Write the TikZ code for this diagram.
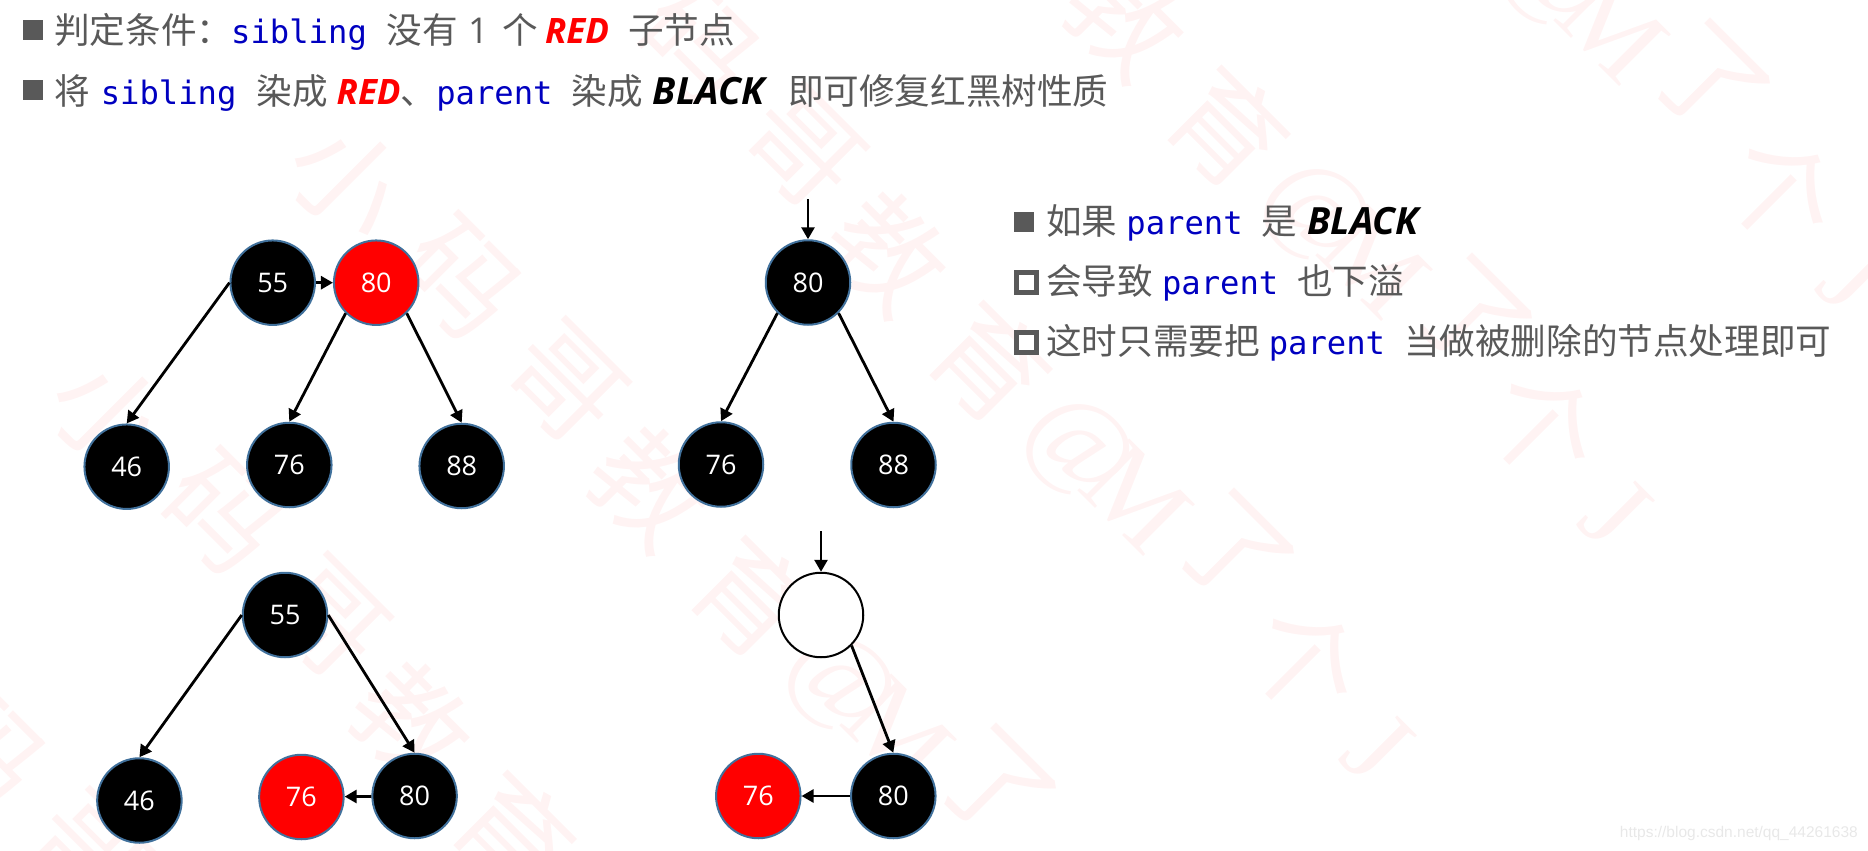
\documentclass[tikz,border=0pt]{standalone}
\usepackage{fontspec}
\setmainfont{Open Sans}
\setmonofont{DejaVu Sans Mono}
\newfontfamily\cjk{Noto Sans CJK SC}
\newfontfamily\wmen{Liberation Serif}
\newfontfamily\csdnfont{Liberation Sans}
\definecolor{keyblue}{RGB}{0, 0, 192}
\definecolor{bodygray}{RGB}{89, 89, 89}
\definecolor{ringblue}{RGB}{65, 113, 156}
\definecolor{wmpink}{RGB}{255, 243, 243}
\definecolor{pureRed}{RGB}{255, 0, 0}
\usetikzlibrary{arrows.meta,positioning,shapes}
\newcommand{\zh}[1]{{\cjk #1}}
\newcommand{\kw}[1]{{\fontsize{32.2}{36}\selectfont\ttfamily\color{keyblue}#1}}
\newcommand{\redword}{{\fontsize{35}{38}\selectfont\bfseries\itshape\color{pureRed}RED}}
\newcommand{\blackword}{{\fontsize{37.5}{40}\selectfont\bfseries\itshape\color{black}BLACK}}
\tikzset{
    blacknode/.style={circle, draw=ringblue, fill=black, line width=2pt, minimum size=84.5pt, inner sep=0pt, text=white, font=\fontsize{27}{30}\selectfont},
    rednode/.style={blacknode, fill=pureRed},
    emptynode/.style={blacknode, draw=black, fill=white},
    linetext/.style={anchor=base west, inner sep=0pt, text=bodygray, font=\fontsize{35.6}{42}\selectfont},
    solidbullet/.style={rectangle, fill=bodygray, minimum width=20pt, minimum height=20pt, inner sep=0pt},
    hollowbullet/.style={rectangle, draw=bodygray, line width=5pt, fill=white, minimum size=20pt, inner sep=0pt},
    treearrow/.style={-{Triangle[length=12pt,width=13pt]}, line width=2.8pt, black},
    wmark/.style={text=wmpink, rotate=-45, inner sep=0pt, font=\fontsize{112}{120}\selectfont}
}

\begin{document}
\begin{tikzpicture}[x=1pt, y=-1pt]
    \useasboundingbox (0,0) rectangle (1868,851);
    \begin{scope}
        \clip (0,0) rectangle (1868,851);
        \foreach \k in {-3,...,3}
            \foreach \c/\ox/\oy/\id in {\cjk 小/348/181/a, \cjk 码/460/279/b, \cjk 哥/565/383/c, \cjk 教/650/488/d, \cjk 育/752/598/e, \wmen @/839/684/f, \wmen M/899/733/g, \cjk 了/995/788/h, \cjk 个/1067/896/i, \wmen J/1139/983/j}
                \node[wmark] (wm\id\k) at ({\ox+\k*238},{\oy-\k*235}) {\c};
    \end{scope}

    \node[solidbullet] (bulleta) at (32.5,30) {};
    \node[linetext] (rulea) at (54,44) {\zh{判定条件：}\hspace{-1pt}\kw{sibling}\hspace{20pt}\zh{没有}\hspace{10pt}1\hspace{14pt}\zh{个}\hspace{7pt}\redword\hspace{19pt}\zh{子节点}};
    \node[solidbullet] (bulletb) at (32.5,90) {};
    \node[linetext] (ruleb) at (54,104) {\zh{将}\hspace{11pt}\kw{sibling}\hspace{20pt}\zh{染成}\hspace{9pt}\redword\zh{、}\kw{parent}\hspace{19pt}\zh{染成}\hspace{10pt}\blackword\hspace{24pt}\zh{即可修复红黑树性质}};

    \node[solidbullet] (bulletc) at (1024,222) {};
    \node[linetext] (notea) at (1046,234) {\zh{如果}\hspace{9pt}\kw{parent}\hspace{19pt}\zh{是}\hspace{10pt}\blackword};
    \node[hollowbullet] (bulletd) at (1026,282) {};
    \node[linetext] (noteb) at (1046,294) {\zh{会导致}\hspace{9pt}\kw{parent}\hspace{19pt}\zh{也下溢}};
    \node[hollowbullet] (bullete) at (1026,342) {};
    \node[linetext] (notec) at (1046,354) {\zh{这时只需要把}\hspace{9pt}\kw{parent}\hspace{19pt}\zh{当做被删除的节点处理即可}};

    \node[blacknode] (la55) at (272.7,282.7) {55};
    \node[rednode, right=17pt of la55] (la80) {80};
    \node[blacknode] (la46) at (126.7,466.7) {46};
    \node[blacknode] (la76) at (289.3,465) {76};
    \node[blacknode] (la88) at (461.7,466) {88};
    \draw[treearrow] (la55) -- (la80);
    \draw[treearrow] (la55.west) -- (la46.north);
    \draw[treearrow] (la80.south west) -- (la76.north);
    \draw[treearrow] (la80.south east) -- (la88.north);

    \coordinate (raentry) at (808,199);
    \node[blacknode] (ra80) at (808,282.5) {80};
    \node[blacknode] (ra76) at (721,464.5) {76};
    \node[blacknode] (ra88) at (893.5,465) {88};
    \draw[treearrow] (raentry) -- (ra80.north);
    \draw[treearrow] (ra80.south west) -- (ra76.north);
    \draw[treearrow] (ra80.south east) -- (ra88.north);

    \node[blacknode] (lb55) at (285,615) {55};
    \node[blacknode] (lb46) at (139.4,800.5) {46};
    \node[rednode] (lb76) at (301.4,797) {76};
    \node[blacknode] (lb80) at (414.6,796) {80};
    \draw[treearrow] (lb55.west) -- (lb46.north);
    \draw[treearrow] (lb55.east) -- (lb80.north);
    \draw[treearrow] (lb80) -- (lb76);

    \coordinate (rbentry) at (821,531);
    \node[emptynode] (rbempty) at (821,615) {};
    \node[rednode] (rb76) at (758.3,796) {76};
    \node[blacknode] (rb80) at (893.3,796) {80};
    \draw[treearrow] (rbentry) -- (rbempty.north);
    \draw[treearrow] (rbempty.south east) -- (rb80.north);
    \draw[treearrow] (rb80) -- (rb76);

    \node[anchor=east, inner sep=0pt, text=black!9, font=\csdnfont\fontsize{15.5}{18}\selectfont] (csdnmark) at (1858,833) {https://blog.csdn.net/qq\_44261638};
\end{tikzpicture}
\end{document}
